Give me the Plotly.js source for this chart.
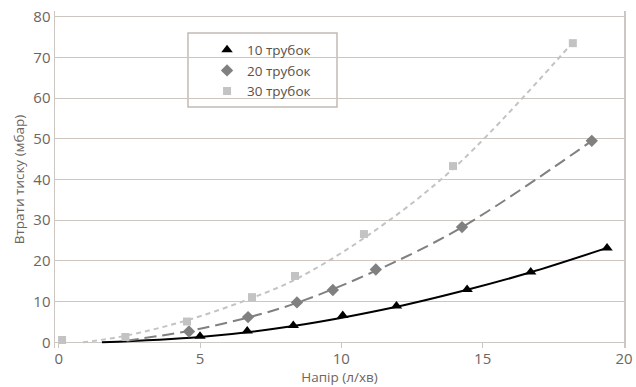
<!DOCTYPE html>
<html>
<head>
<meta charset="utf-8">
<script src="https://cdn.plot.ly/plotly-3.0.1.min.js"></script>
<style>html,body{margin:0;padding:0;background:#fff;}#chart{width:636px;height:387px;}</style>
</head>
<body>
<div id="chart"></div>
<script>
// Measured points
const names = ["10 трубок", "20 трубок", "30 трубок"];
const x10 = [5.0, 6.67, 8.3, 10.05, 11.95, 14.45, 16.7, 19.4];
const y10 = [1.5, 2.8, 4.1, 6.6, 8.9, 13.0, 17.3, 23.2];
const x20 = [4.61, 6.7, 8.43, 9.7, 11.22, 14.27, 18.86];
const y20 = [2.65, 6.2, 9.8, 12.85, 17.9, 28.3, 49.5];
const x30 = [0.12, 2.36, 4.54, 6.84, 8.36, 10.8, 13.95, 18.19];
const y30 = [0.57, 1.3, 5.1, 11.1, 16.3, 26.6, 43.3, 73.5];
// Trend curves
const tx10 = [1.53, 5.0, 8.3, 12.0, 14.45, 16.7, 19.4];
const ty10 = [0.0, 1.3, 4.0, 8.8, 12.9, 17.2, 23.2];
const tx20 = [2.4, 4.6, 6.7, 8.43, 11.22, 14.27, 18.86];
const ty20 = [0.4, 2.8, 6.1, 9.7, 17.6, 28.3, 49.5];
const tx30 = [0.86, 2.36, 4.54, 6.84, 8.36, 10.8, 13.95, 18.1];
const ty30 = [0.0, 1.6, 5.4, 10.9, 15.4, 25.6, 42.6, 73.0];
const xTicks = [0, 5, 10, 15, 20];
const yTicks = [0, 10, 20, 30, 40, 50, 60, 70, 80];

const txt = '#6e6560';
const grid = '#cdc6c1';
const font = 'Open Sans, Noto Sans, sans-serif';

const traces = [
  {x: tx10, y: ty10, mode: 'lines', line: {color: '#000000', width: 2, shape: 'spline'}, showlegend: false, hoverinfo: 'skip'},
  {x: tx20, y: ty20, mode: 'lines', line: {color: '#808080', width: 2, dash: '12px,6px', shape: 'spline'}, showlegend: false, hoverinfo: 'skip'},
  {x: tx30, y: ty30, mode: 'lines', line: {color: '#c3c3c3', width: 2, dash: '5px,4px', shape: 'spline'}, showlegend: false, hoverinfo: 'skip'},
  {x: x10, y: y10, name: names[0], mode: 'markers', marker: {symbol: 'triangle-up', size: 10, color: '#000000'}},
  {x: x20, y: y20, name: names[1], mode: 'markers', marker: {symbol: 'diamond', size: 9.5, color: '#808080'}},
  {x: x30, y: y30, name: names[2], mode: 'markers', marker: {symbol: 'square', size: 8, color: '#c3c3c3'}}
];

const layout = {
  width: 636, height: 387,
  margin: {l: 55, r: 12, t: 11, b: 39},
  paper_bgcolor: '#ffffff', plot_bgcolor: '#ffffff',
  font: {family: font, color: txt, size: 15},
  xaxis: {
    range: [-0.13, 20], tickvals: xTicks, ticktext: xTicks.map(String),
    showgrid: false, zeroline: false, showline: false,
    ticks: 'inside', ticklen: 6, tickcolor: grid, tickwidth: 1,
    tickfont: {size: 15, color: txt},
    title: {text: 'Напір (л/хв)', font: {size: 13.5, color: txt}, standoff: 3}
  },
  yaxis: {
    range: [-1.4, 81.4], tickvals: yTicks, ticktext: yTicks.map(String),
    showgrid: true, gridcolor: grid, gridwidth: 1,
    zeroline: true, zerolinecolor: grid, zerolinewidth: 1,
    showline: true, mirror: true, linecolor: grid, linewidth: 1.5,
    ticks: '', tickfont: {size: 15, color: txt},
    title: {text: 'Втрати тиску (мбар)', font: {size: 13.5, color: txt}, standoff: 5}
  },
  legend: {
    x: 0.2672, y: 0.93, xanchor: 'left', yanchor: 'top',
    bgcolor: 'rgba(0,0,0,0)', borderwidth: 0,
    font: {size: 13.5, color: '#5a504a', family: font},
    tracegroupgap: 0
  },
  shapes: [
    {type: 'rect', xref: 'paper', yref: 'paper', x0: 0.2337, x1: 0.4956, y0: 0.7151, y1: 0.9347,
     line: {color: '#c2bab5', width: 1.5}, fillcolor: 'rgba(255,255,255,1)', layer: 'below'}
  ],
  showlegend: true
};

Plotly.newPlot('chart', traces, layout, {displayModeBar: false, staticPlot: true});
</script>
</body>
</html>
